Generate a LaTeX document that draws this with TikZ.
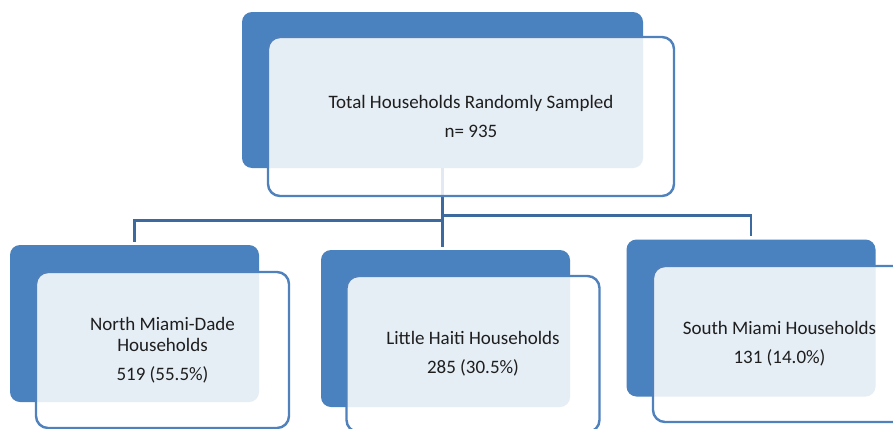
\documentclass[tikz,border=0pt]{standalone}
\usepackage{fontspec}
\setmainfont{Carlito}
\usetikzlibrary{positioning}

\definecolor{backblue}{RGB}{74,129,191}
\definecolor{edgeblue}{RGB}{79,129,189}
\definecolor{linkblue}{RGB}{61,106,158}
\definecolor{inktext}{RGB}{30,30,30}

\tikzset{
  backbox/.style={fill=backblue, rounded corners=5pt, inner sep=0pt,
    minimum width=124.5pt, minimum height=78.5pt},
  frontbox/.style={draw=edgeblue, line width=1.2pt, fill=white, fill opacity=0.86,
    text opacity=1, text=inktext, rounded corners=6pt, inner sep=0pt,
    minimum width=126.5pt, minimum height=78pt, align=center,
    font=\fontsize{9.5}{10.5}\selectfont},
  link/.style={draw=linkblue, line width=1.2pt, shorten >=1.5pt}
}

\begin{document}
\begin{tikzpicture}[x=0.5pt, y=-0.5pt]

  \clip (0, 0) rectangle (893, 428);
  \fill[white] (0, 0) rectangle (893, 428);

  % Blue backing panels
  \node[backbox, minimum width=200.5pt, minimum height=78pt] (topback) at (442.5, 90) {};
  \node[backbox] (northback) at (134.5, 323.5) {};
  \node[backbox] (haitiback) at (445.5, 328.5) {};
  \node[backbox] (southback) at (751, 318) {};

  % Tree connectors
  \draw[link] (topback.south) -- ++(0, 52) -| (northback.north);
  \draw[link] (topback.south) -- ++(0, 47) -| (southback.north);
  \draw[link] (topback.south) -- (topback.south |- haitiback.north);

  % Light panels with the counts
  \node[frontbox, minimum width=203pt, minimum height=79.5pt] (top)
    at ([shift={(28.5, 26.5)}]topback.center)
    {Total Households Randomly Sampled\\[4pt] n= 935};
  \node[frontbox] (north) at ([shift={(28, 26.5)}]northback.center)
    {North Miami-Dade\\ Households\\[4pt] 519 (55.5\%)};
  \node[frontbox] (haiti) at ([shift={(27.5, 25.5)}]haitiback.center)
    {Little Haiti Households\\[4pt] 285 (30.5\%)};
  \node[frontbox] (south) at ([shift={(28.5, 26)}]southback.center)
    {South Miami Households\\[4pt] 131 (14.0\%)};

\end{tikzpicture}
\end{document}
